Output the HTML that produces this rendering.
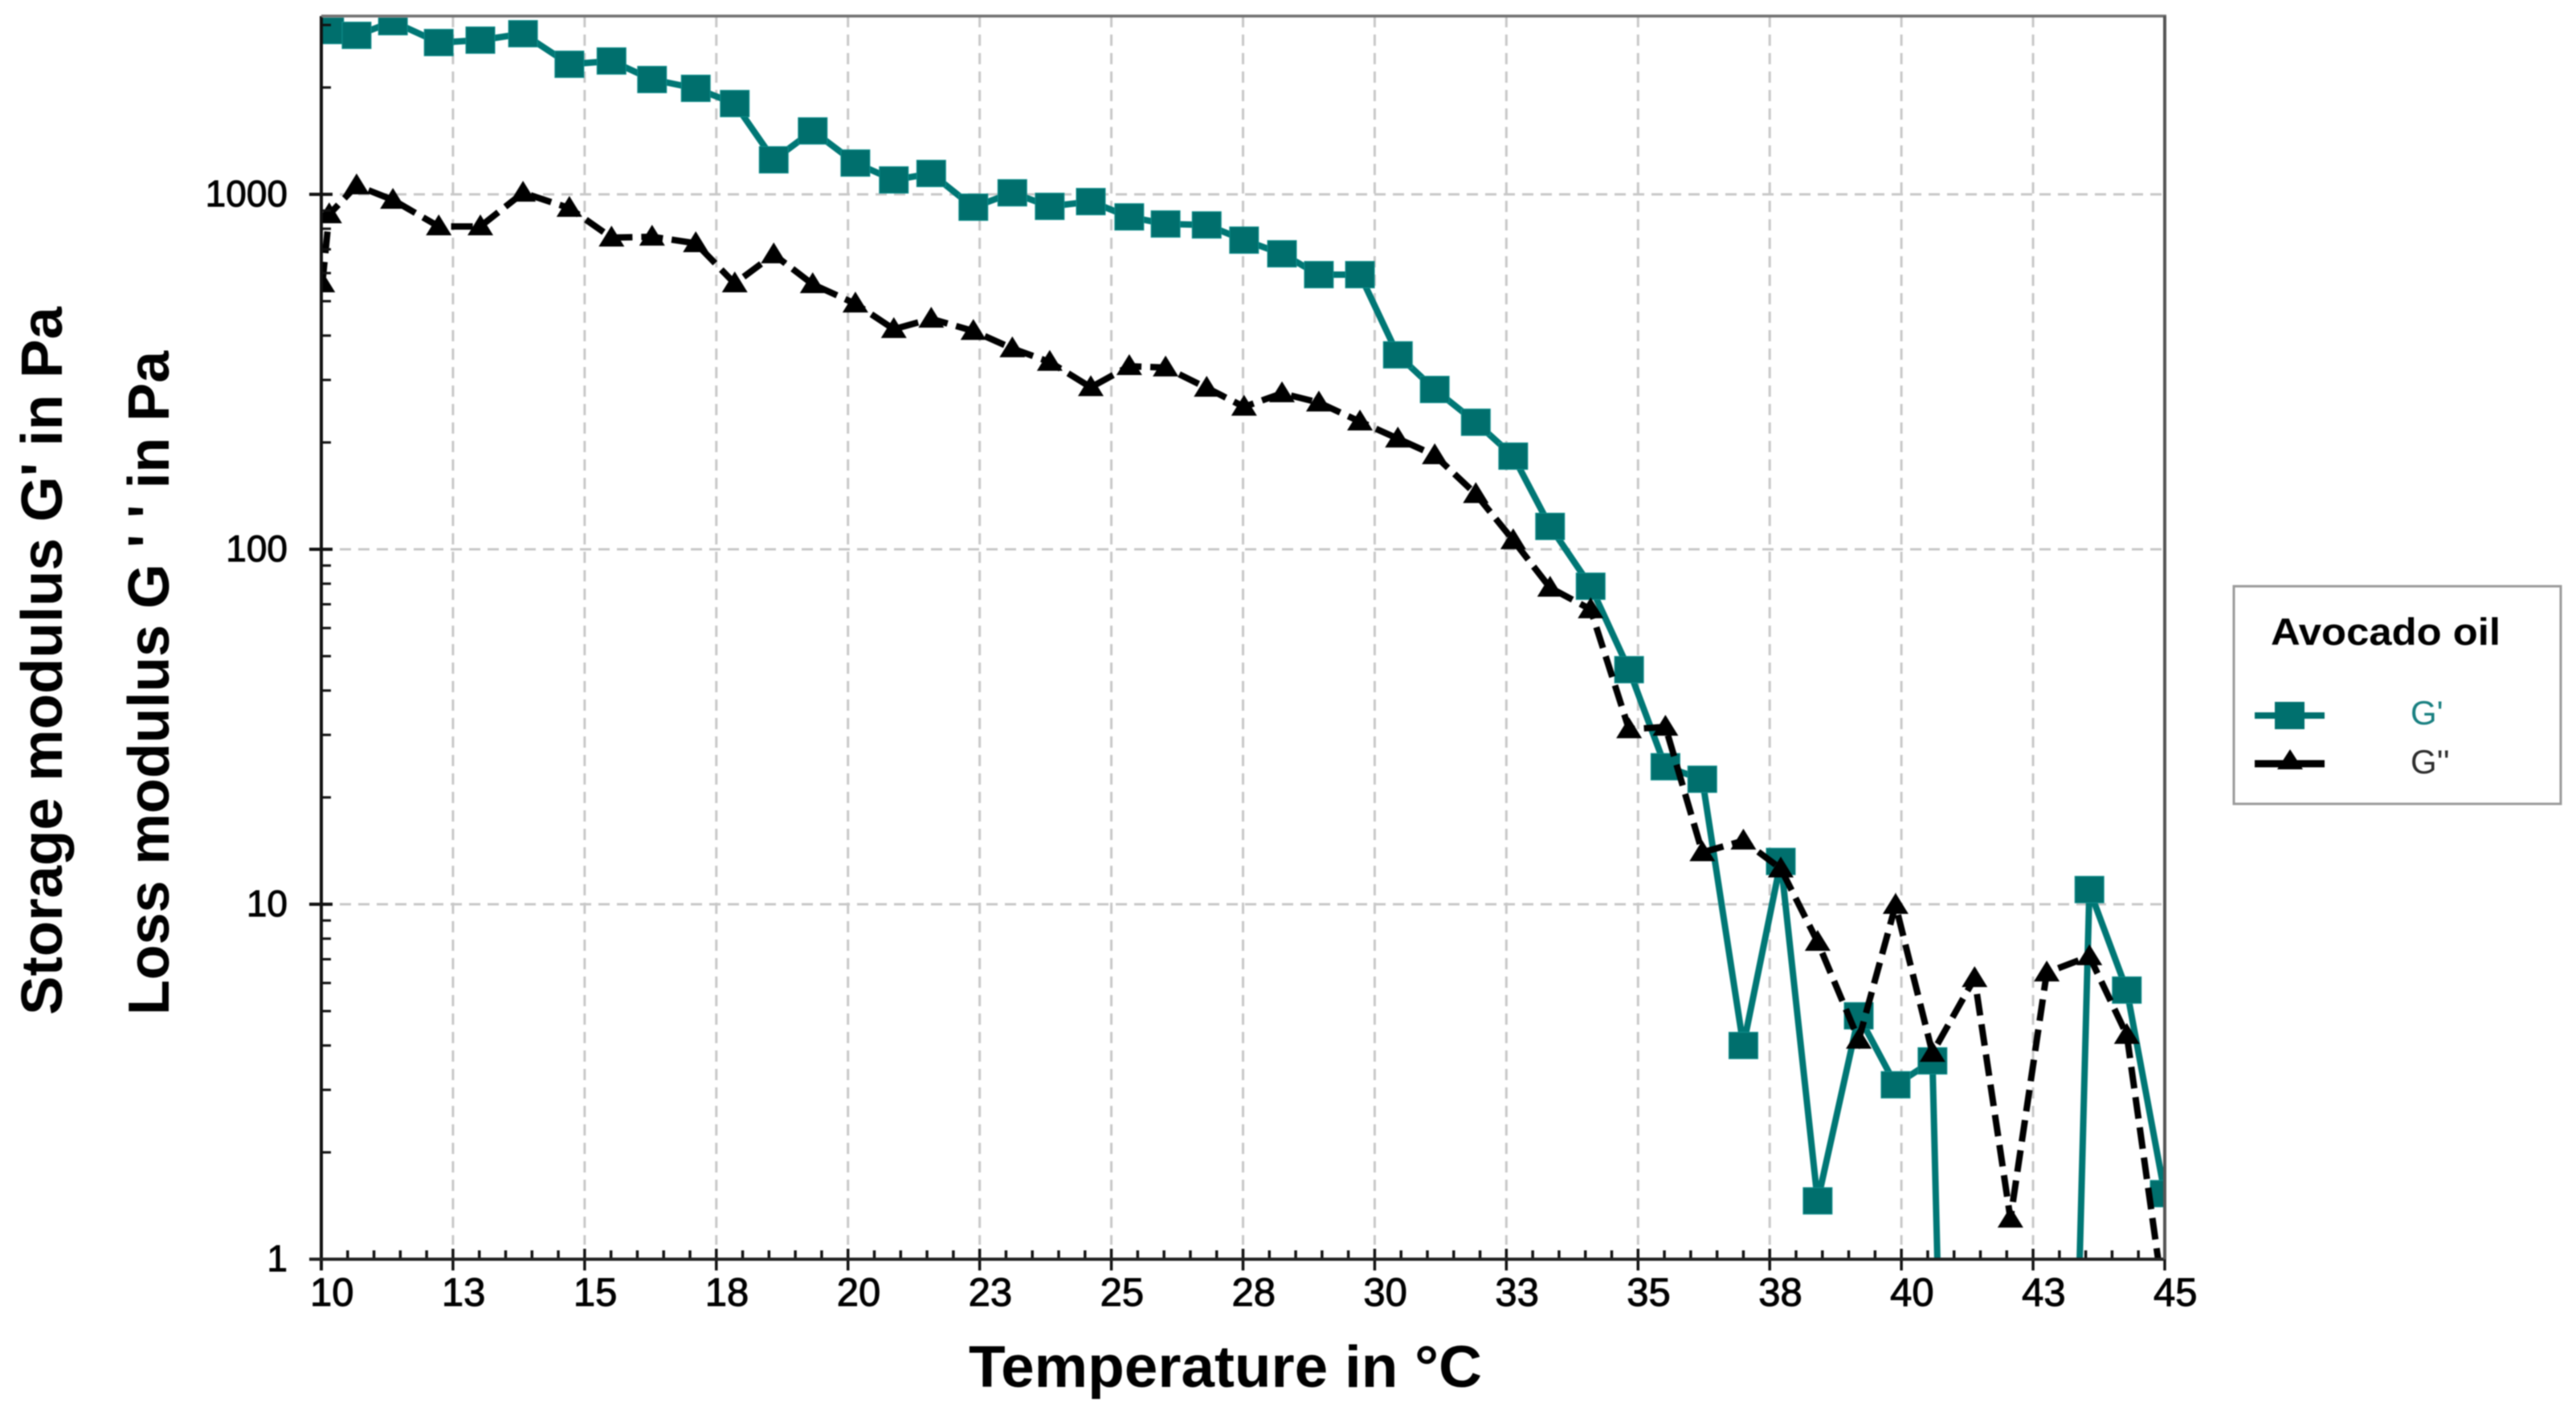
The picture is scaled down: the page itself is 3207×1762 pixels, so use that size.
<!DOCTYPE html>
<html lang="en">
<head>
<meta charset="utf-8">
<title>Storage and loss modulus vs temperature: Avocado oil</title>
<style>
html,body{margin:0;padding:0;background:#fff;width:3207px;height:1762px;overflow:hidden}
svg{display:block;filter:blur(0.9px)}
text{font-family:"Liberation Sans",sans-serif;fill:#000}
</style>
</head>
<body>
<svg id="chart" xmlns="http://www.w3.org/2000/svg" width="3207" height="1762" viewBox="0 0 3207 1762">
  <defs>
    <clipPath id="plot-clip"><rect x="400" y="22" width="2295" height="1546"></rect></clipPath>
  </defs>
  <rect x="0" y="0" width="3207" height="1762" fill="#fff"></rect>
  <g id="grid"></g>
  <g id="series" clip-path="url(#plot-clip)"></g>
  <g id="axes"></g>

  <text x="1206" y="1727" font-size="73" font-weight="700" textLength="639" lengthAdjust="spacingAndGlyphs">Temperature in °C</text>
  <text transform="translate(77,1264) rotate(-90)" font-size="72" font-weight="700" textLength="882" lengthAdjust="spacingAndGlyphs">Storage modulus G' in Pa</text>
  <text transform="translate(210,1264) rotate(-90)" font-size="72" font-weight="700" textLength="827" lengthAdjust="spacingAndGlyphs">Loss modulus G ' ' in Pa</text>

  <g>
    <rect x="2781" y="730" width="407" height="271" fill="#fff" stroke="#9a9a9a" stroke-width="3"></rect>
    <text x="2827" y="803" font-size="47" font-weight="700" textLength="286" lengthAdjust="spacingAndGlyphs">Avocado oil</text>
    <g>
      <line x1="2807" y1="891" x2="2894" y2="891" stroke="#00706e" stroke-width="8"></line>
      <rect x="2832" y="874" width="37" height="34" fill="#00706e"></rect>
      <text x="3001" y="902" font-size="42" style="fill:#187f80">G'</text>
    </g>
    <g>
      <line x1="2807" y1="951" x2="2894" y2="951" stroke="#000" stroke-width="9"></line>
      <polygon points="2851,933 2867,958 2835,958" fill="#000"></polygon>
      <text x="3001" y="963" font-size="42" style="fill:#2c2c2c">G''</text>
    </g>
  </g>
</svg>
<script>
const temperatures = [10.02,10.15,10.67,11.36,12.23,13.02,13.83,14.71,15.51,16.28,17.11,17.85,18.59,19.33,20.14,20.87,21.58,22.38,23.12,23.83,24.61,25.34,26.03,26.81,27.52,28.24,28.94,29.72,30.44,31.14,31.92,32.63,33.33,34.10,34.83,35.52,36.22,37.00,37.71,38.41,39.19,39.89,40.59,41.39,42.07,42.76,43.57,44.28,45.00];
const storageModulus = [2956,2894,2805,3065,2677,2719,2835,2325,2375,2106,1989,1802,1251,1509,1225,1098,1145,920,1010,925,954,864,825,820,743,680,594,594,353,282,228,183,116,78.7,45.8,24.4,22.5,4.0,13.2,1.46,4.85,3.10,3.62,0.000055,0.00015,0.00031,11.0,5.73,1.53];
const lossModulus = [561,878,1059,964,812,812,1010,915,755,759,728,561,677,558,492,417,446,412,368,337,286,328,325,285,252,275,259,229,205,184,143,106,77.9,67.7,31.1,31.6,14.0,15.1,12.6,7.83,4.15,9.95,3.81,6.19,1.30,6.42,7.13,4.28,0.735];
const xTickLabels = ["10","13","15","18","20","23","25","28","30","33","35","38","40","43","45"];
const yTickValues = [1,10,100,1000];
const yTickLabels = ["1","10","100","1000"];

const NS = "http://www.w3.org/2000/svg";
const plotLeft = 400, plotRight = 2695, plotTop = 20, plotBottom = 1568;
const xMin = 10, xMax = 45, xStep = 2.5, xMinorStep = 0.5, decadeHeight = 442;
const yTopValue = Math.pow(10, (plotBottom - plotTop) / decadeHeight);
const axisColor = "#111";

function xScale(t) { return plotLeft + (t - xMin) * (plotRight - plotLeft) / (xMax - xMin); }
function yScale(v) { return plotBottom - Math.log10(v) * decadeHeight; }

function make(tag, parent, props) {
  const el = document.createElementNS(NS, tag);
  for (const key in props) el.setAttribute(key, props[key]);
  parent.appendChild(el);
  return el;
}

const gridLayer = document.getElementById("grid");
const seriesLayer = document.getElementById("series");
const axesLayer = document.getElementById("axes");
const gridStyle = { stroke: "#c8c8c8", "stroke-width": 3, "stroke-dasharray": "14 9", fill: "none" };

xTickLabels.forEach(function (label, i) {
  const t = xMin + i * xStep;
  const x = xScale(t);
  if (i > 0 && i < xTickLabels.length - 1) {
    const g = make("line", gridLayer, Object.assign({ x1: x, y1: plotTop, x2: x, y2: plotBottom - 18 }, gridStyle));
    
    
  }
  const tick = make("line", axesLayer, { x1: x, y1: plotBottom - 13, x2: x, y2: plotBottom + 14, stroke: axisColor, "stroke-width": 3.5 });
  
  
  const txt = make("text", axesLayer, { x: x - 14, y: 1626, "font-size": 49, stroke: "#000", "stroke-width": 1 });
  txt.textContent = label;
  
  
});

for (let i = 0; i * xMinorStep <= xMax - xMin; i++) {
  if (i % 5 === 0) continue;
  const x = xScale(xMin + i * xMinorStep);
  const minor = make("line", axesLayer, { x1: x, y1: plotBottom - 11, x2: x, y2: plotBottom, stroke: axisColor, "stroke-width": 3.5 });
  
  
}

yTickValues.forEach(function (v, i) {
  const y = yScale(v);
  if (i > 0) {
    const g = make("line", gridLayer, Object.assign({ x1: plotLeft, y1: y, x2: plotRight, y2: y }, gridStyle));
    
    
  }
  const tick = make("line", axesLayer, { x1: plotLeft - 15, y1: y, x2: plotLeft + 14, y2: y, stroke: axisColor, "stroke-width": 4 });
  
  
  const txt = make("text", axesLayer, { x: 358, y: y + 15, "font-size": 46, "text-anchor": "end", stroke: "#000", "stroke-width": 1 });
  txt.textContent = yTickLabels[i];
  
  
  for (let m = 2; m <= 9; m++) {
    if (v * m > yTopValue) break;
    const my = yScale(v * m);
    const minor = make("line", axesLayer, { x1: plotLeft, y1: my, x2: plotLeft + 12, y2: my, stroke: axisColor, "stroke-width": 3 });
    
    
  }
});

/* Build a path in screen space, stopping each segment where it leaves through the bottom of the plot. */
function clippedPath(values) {
  const limit = plotBottom + 80;
  let d = "", penDown = false;
  for (let i = 0; i < values.length; i++) {
    const x = xScale(temperatures[i]), y = yScale(values[i]);
    if (y <= limit) {
      if (!penDown && i > 0) {
        const px = xScale(temperatures[i - 1]), py = yScale(values[i - 1]);
        d += "M" + (px + (x - px) * (limit - py) / (y - py)).toFixed(1) + " " + limit + "L";
      } else {
        d += penDown ? "L" : "M";
      }
      d += x.toFixed(1) + " " + y.toFixed(1);
      penDown = true;
    } else if (penDown) {
      const px = xScale(temperatures[i - 1]), py = yScale(values[i - 1]);
      d += "L" + (px + (x - px) * (limit - py) / (y - py)).toFixed(1) + " " + limit;
      penDown = false;
    }
  }
  return d;
}

const storageLine = make("path", seriesLayer, { d: clippedPath(storageModulus), fill: "none", stroke: "#007775", "stroke-width": 8, "stroke-linejoin": "round" });



storageModulus.forEach(function (v, i) {
  if (v < 1) return;
  const x = xScale(temperatures[i]), y = yScale(v);
  const square = make("rect", seriesLayer, { x: x - 18, y: y - 16.5, width: 36, height: 33, fill: "#006f6d", stroke: "#12908e", "stroke-width": 1 });
  
  
});

const lossLine = make("path", seriesLayer, { d: clippedPath(lossModulus), fill: "none", stroke: "#000", "stroke-width": 8, "stroke-dasharray": "27 11" });



lossModulus.forEach(function (v, i) {
  const x = xScale(temperatures[i]), y = yScale(v);
  if (y > plotBottom + 80) return;
  const tri = make("polygon", seriesLayer, { points: x + "," + (y - 15) + " " + (x + 16) + "," + (y + 11) + " " + (x - 16) + "," + (y + 11), fill: "#000" });
  
  
});

const leftAxis = make("line", axesLayer, { x1: plotLeft, y1: plotTop, x2: plotLeft, y2: plotBottom + 14, stroke: axisColor, "stroke-width": 4 });



const bottomAxis = make("line", axesLayer, { x1: plotLeft - 15, y1: plotBottom, x2: plotRight, y2: plotBottom, stroke: "#222", "stroke-width": 4 });



const topBorder = make("line", axesLayer, { x1: plotLeft, y1: plotTop, x2: plotRight + 2, y2: plotTop, stroke: "#707070", "stroke-width": 3.5 });



const rightBorder = make("line", axesLayer, { x1: plotRight, y1: plotTop, x2: plotRight, y2: plotBottom, stroke: "#555", "stroke-width": 4 });


</script>
</body>
</html>
